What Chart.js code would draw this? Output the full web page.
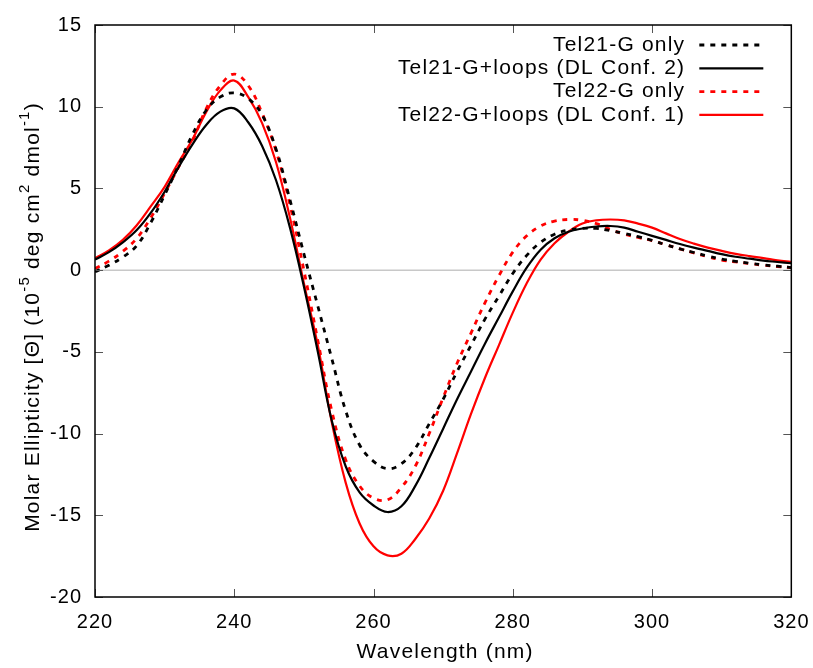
<!DOCTYPE html>
<html>
<head>
<meta charset="utf-8">
<script src="https://cdn.jsdelivr.net/npm/chart.js@4.4.0/dist/chart.umd.min.js"></script>
<style>
  html, body { margin: 0; padding: 0; background: #fff; overflow: hidden; }
  #wrap { width: 813px; height: 668px; }
</style>
</head>
<body>
<div id="wrap"><canvas id="cd"></canvas></div>
<script>
// wavelength (nm), every 2 nm
const wavelength = [220, 222, 224, 226, 228, 230, 232, 234, 236, 238,
                    240, 242, 244, 246, 248, 250, 252, 254, 256, 258,
                    260, 262, 264, 266, 268, 270, 272, 274, 276, 278,
                    280, 282, 284, 286, 288, 290, 292, 294, 296, 298,
                    300, 302, 304, 306, 308, 310, 312, 314, 316, 318, 320];

// molar ellipticity, 10^-5 deg cm2 dmol-1
const tel21Only = [-0.1, 0.3, 0.8, 1.5, 2.9, 4.6, 6.4, 8.3, 9.8, 10.6,
                   10.85, 10.5, 9.5, 7.4, 4.3, 1.0, -2.2, -5.4, -8.6, -10.7,
                   -11.7, -12.15, -11.85, -10.9, -9.4, -7.9, -6.2, -4.6, -3.0, -1.6,
                   -0.2, 0.9, 1.7, 2.2, 2.45, 2.55, 2.55, 2.42, 2.25, 2.05,
                   1.82, 1.55, 1.3, 1.08, 0.86, 0.68, 0.54, 0.42, 0.32, 0.24, 0.16];

const tel21Loops = [0.65, 1.1, 1.7, 2.45, 3.5, 4.8, 6.3, 7.7, 8.9, 9.7,
                    9.9, 9.05, 7.6, 5.5, 2.6, -1.0, -5.0, -9.2, -12.0, -13.6,
                    -14.4, -14.8, -14.45, -13.2, -11.5, -9.7, -7.9, -6.2, -4.5, -2.9,
                    -1.3, 0.15, 1.25, 1.95, 2.35, 2.55, 2.67, 2.7, 2.6, 2.35,
                    2.1, 1.85, 1.6, 1.38, 1.18, 0.98, 0.82, 0.7, 0.58, 0.5, 0.42];

const tel22Only = [0.1, 0.55, 1.15, 1.95, 3.2, 4.7, 6.3, 7.9, 9.9, 11.3,
                   12.0, 11.3, 9.6, 7.3, 4.0, 0.0, -4.3, -8.6, -11.6, -13.2,
                   -13.95, -14.05, -13.3, -12.0, -10.0, -7.8, -5.7, -3.85, -2.0, -0.35,
                   1.1, 2.1, 2.7, 3.0, 3.1, 3.05, 2.85, 2.5, 2.2, 2.0,
                   1.8, 1.55, 1.3, 1.05, 0.82, 0.62, 0.5, 0.4, 0.3, 0.22, 0.16];

const tel22Loops = [0.72, 1.2, 1.85, 2.75, 3.9, 5.1, 6.6, 8.0, 9.7, 11.0,
                    11.6, 10.6, 9.0, 6.6, 3.2, -0.8, -4.6, -9.3, -13.0, -15.5,
                    -16.9, -17.45, -17.35, -16.45, -15.2, -13.5, -11.2, -8.8, -6.6, -4.6,
                    -2.6, -0.8, 0.65, 1.65, 2.35, 2.85, 3.05, 3.1, 3.05, 2.85,
                    2.6, 2.25, 1.9, 1.62, 1.38, 1.18, 1.0, 0.86, 0.74, 0.6, 0.5];

const seriesLabels = ["Tel21-G only", "Tel21-G+loops (DL Conf. 2)",
                      "Tel22-G only", "Tel22-G+loops (DL Conf. 1)"];

const FONT = "'Liberation Sans', Arial, Helvetica, sans-serif";
Chart.defaults.font.family = FONT;
Chart.defaults.color = "#000";

function toPoints(values) {
    return wavelength.map((w, i) => ({ x: w, y: values[i] }));
}

function makeSet(label, values, color, dashed) {
    return {
        label: label,
        data: toPoints(values),
        borderColor: color,
        borderWidth: dashed ? 2.8 : 2.2,
        borderDash: dashed ? [5, 6] : [],
        pointRadius: 0,
        fill: false,
        tension: 0.4,
    };
}

// frame, inward ticks, zero line, legend and axis titles (gnuplot look)
const gnuplotLook = {
    id: "gnuplotLook",
    beforeDraw(chart) {
        // gnuplot text is a bit wider than plain Arial
        chart.ctx.letterSpacing = "1px";
    },
    beforeDatasetsDraw(chart) {
        const { ctx, chartArea: a, scales: { y } } = chart;
        const y0 = y.getPixelForValue(0);
        ctx.save();
        ctx.strokeStyle = "#c8c8c8";
        ctx.lineWidth = 1.5;
        ctx.beginPath();
        ctx.moveTo(a.left, y0);
        ctx.lineTo(a.right, y0);
        ctx.stroke();
        ctx.restore();
    },
    afterDraw(chart) {
        const { ctx, chartArea: a, scales: { x, y } } = chart;
        ctx.save();

        // ticks
        ctx.strokeStyle = "#555";
        ctx.lineWidth = 1;
        ctx.beginPath();
        x.ticks.forEach(t => {
            const px = Math.round(x.getPixelForValue(t.value)) + 0.5;
            ctx.moveTo(px, a.bottom); ctx.lineTo(px, a.bottom - 8);
            ctx.moveTo(px, a.top); ctx.lineTo(px, a.top + 8);
        });
        y.ticks.forEach(t => {
            const py = Math.round(y.getPixelForValue(t.value)) + 0.5;
            ctx.moveTo(a.left, py); ctx.lineTo(a.left + 8, py);
            ctx.moveTo(a.right, py); ctx.lineTo(a.right - 8, py);
        });
        ctx.stroke();

        // frame
        ctx.strokeStyle = "#000";
        ctx.lineWidth = 1.5;
        ctx.strokeRect(a.left, a.top, a.right - a.left, a.bottom - a.top);

        // legend
        ctx.letterSpacing = "1.2px";
        ctx.font = "21px " + FONT;
        ctx.fillStyle = "#000";
        ctx.textAlign = "right";
        ctx.textBaseline = "middle";
        chart.data.datasets.forEach((ds, i) => {
            const ly = a.top + 20 + i * 23.3;
            ctx.fillText(ds.label, a.right - 106, ly);
            ctx.strokeStyle = ds.borderColor;
            ctx.lineWidth = ds.borderWidth;
            ctx.setLineDash(ds.borderDash);
            ctx.beginPath();
            ctx.moveTo(a.right - 92, ly);
            ctx.lineTo(a.right - 28, ly);
            ctx.stroke();
            ctx.setLineDash([]);
        });

        // x title
        ctx.textAlign = "center";
        ctx.fillText("Wavelength (nm)", (a.left + a.right) / 2 + 2, 652);

        // y title with superscripts
        const parts = [
            ["Molar Ellipticity [\u0398] (10", false],
            ["-5", true],
            [" deg cm", false],
            ["2", true],
            [" dmol", false],
            ["-1", true],
            [")", false],
        ];
        const big = "21px " + FONT, small = "15px " + FONT;
        let total = 0;
        parts.forEach(p => { ctx.font = p[1] ? small : big; total += ctx.measureText(p[0]).width; });
        ctx.translate(33, 317);
        ctx.rotate(-Math.PI / 2);
        ctx.textAlign = "left";
        let cx = -total / 2;
        parts.forEach(p => {
            ctx.font = p[1] ? small : big;
            ctx.fillText(p[0], cx, p[1] ? -8 : 0);
            cx += ctx.measureText(p[0]).width;
        });
        ctx.restore();
    }
};

new Chart(document.getElementById("cd"), {
    type: "line",
    data: {
        datasets: [
            makeSet(seriesLabels[0], tel21Only, "#000000", true),
            makeSet(seriesLabels[1], tel21Loops, "#000000", false),
            makeSet(seriesLabels[2], tel22Only, "#ff0000", true),
            makeSet(seriesLabels[3], tel22Loops, "#ff0000", false),
        ],
    },
    options: {
        responsive: true,
        maintainAspectRatio: false,
        devicePixelRatio: 1,
        animation: false,
        layout: { padding: { top: 25, right: 17, left: 0, bottom: 0 } },
        plugins: {
            legend: { display: false },
            tooltip: { enabled: false },
        },
        scales: {
            x: {
                type: "linear",
                min: 220,
                max: 320,
                ticks: { stepSize: 20, font: { size: 20 }, color: "#000", padding: 5, maxRotation: 0 },
                grid: { display: false },
                border: { display: false },
                afterFit: s => { s.height = 71; },
            },
            y: {
                min: -20,
                max: 15,
                ticks: { stepSize: 5, font: { size: 20 }, color: "#000", padding: 5 },
                grid: { display: false },
                border: { display: false },
                afterFit: s => { s.width = 95; },
            },
        },
    },
    plugins: [gnuplotLook],
});
</script>
</body>
</html>
